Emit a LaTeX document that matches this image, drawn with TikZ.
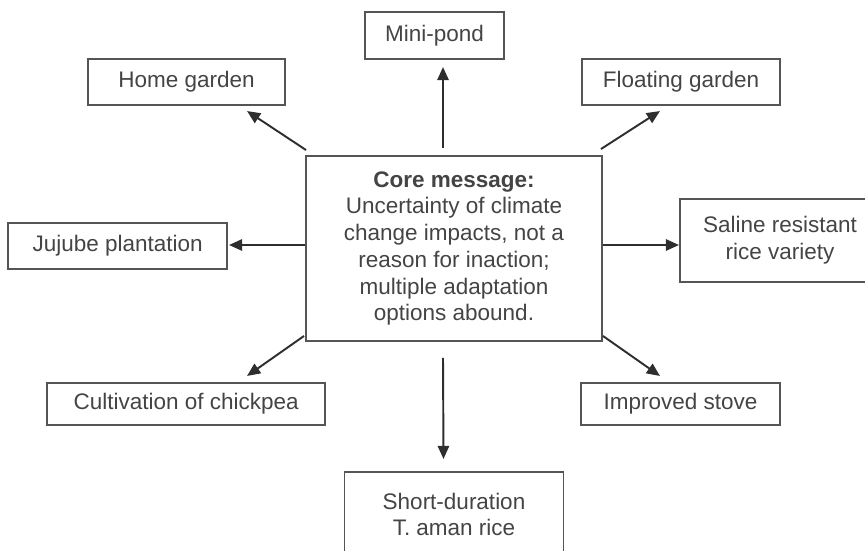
\documentclass[tikz,border=0pt]{standalone}
\usepackage{fontspec}
\setmainfont{Liberation Sans}
\usepackage{tikz}
\usetikzlibrary{positioning, arrows.meta}

\definecolor{boxline}{HTML}{555555}
\definecolor{boxtext}{HTML}{444444}
\definecolor{arrline}{HTML}{2E2E2E}

\tikzset{
	option/.style={draw=boxline, line width=1.1pt, text=boxtext, inner sep=0pt, align=center,
		font=\fontsize{12.8}{15.2}\selectfont},
	link/.style={draw=arrline, line width=1.1pt, -{Triangle[length=7.5pt, width=6.5pt]}}
}

\begin{document}
\begin{tikzpicture}
	\useasboundingbox (0,0) rectangle (17.3,-11);
	
	\node[option, minimum width=5.92cm, minimum height=3.7cm] (core) at (9.08,-4.97)
		{\textbf{Core message:}\\Uncertainty of climate\\change impacts, not a\\reason for inaction;\\multiple adaptation\\options abound.};
	
	\node[option, minimum width=2.78cm, minimum height=0.94cm, above=1.9cm of core, xshift=-0.39cm] (minipond) {Mini-pond};
	\node[option, minimum width=3.94cm, minimum height=0.92cm, above left=0.98cm and 0.38cm of core] (homegarden) {Home garden};
	\node[option, minimum width=3.96cm, minimum height=0.92cm, above right=0.98cm and -0.44cm of core] (floating) {Floating garden};
	
	\node[option, minimum width=4.38cm, minimum height=0.92cm, left=1.54cm of core, yshift=0.05cm] (jujube) {Jujube plantation};
	\node[option, minimum width=4.0cm, minimum height=1.66cm, right=1.52cm of core, yshift=0.16cm] (saline) {Saline resistant\\rice variety};
	
	\node[option, minimum width=5.56cm, minimum height=0.84cm, below left=0.8cm and -0.42cm of core] (chickpea) {Cultivation of chickpea};
	\node[option, minimum width=3.98cm, minimum height=0.84cm, below right=0.8cm and -0.46cm of core] (stove) {Improved stove};
	\node[option, minimum width=4.38cm, minimum height=1.7cm, below=2.58cm of core] (shortrice) {Short-duration\\T. aman rice};
	
	\draw[link] ([xshift=-0.22cm, yshift=0.14cm]core.north) -- ([xshift=0.17cm, yshift=-0.14cm]minipond.south);
	\draw[link] ([xshift=0.02cm, yshift=0.1cm]core.north west) -- ([xshift=-0.78cm, yshift=-0.1cm]homegarden.south east);
	\draw[link] ([xshift=-0.04cm, yshift=0.12cm]core.north east) -- ([xshift=1.58cm, yshift=-0.1cm]floating.south west);
	\draw[link] ([yshift=0.07cm]core.west) -- ([xshift=0.02cm, yshift=0.02cm]jujube.east);
	\draw[link] ([yshift=0.07cm]core.east) -- ([yshift=-0.09cm]saline.west);
	\draw[link] ([xshift=-0.02cm, yshift=0.12cm]core.south west) -- ([xshift=-1.58cm, yshift=0.12cm]chickpea.north east);
	\draw[link] ([yshift=0.12cm]core.south east) -- ([xshift=1.6cm, yshift=0.12cm]stove.north west);
	\draw[link] ([xshift=-0.22cm, yshift=-0.32cm]core.south) -- ([xshift=-0.21cm, yshift=0.24cm]shortrice.north);
\end{tikzpicture}
\end{document}
